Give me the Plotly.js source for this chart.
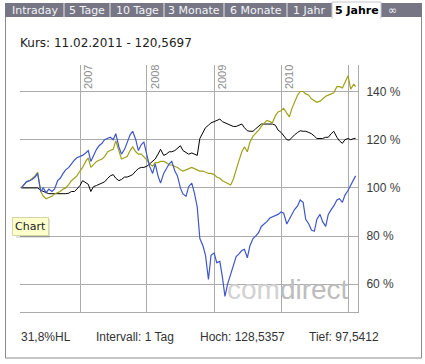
<!DOCTYPE html>
<html>
<head>
<meta charset="utf-8">
<script src="https://cdn.plot.ly/plotly-3.0.1.min.js"></script>
<style>
html,body{margin:0;padding:0;background:#fff;}
#chart{width:425px;height:364px;}
</style>
</head>
<body>
<div id="chart"></div>
<script>
const dates = [
'2006-02-15','2006-03-01','2006-03-15','2006-04-01','2006-04-15','2006-05-01','2006-05-15','2006-06-01','2006-06-15','2006-07-01','2006-07-15','2006-08-01','2006-08-15','2006-09-01','2006-09-15','2006-10-01','2006-10-15','2006-11-01','2006-11-15','2006-12-01','2006-12-15',
'2007-01-01','2007-01-15','2007-02-01','2007-02-15','2007-03-01','2007-03-15','2007-04-01','2007-04-15','2007-05-01','2007-05-15','2007-06-01','2007-06-15','2007-07-01','2007-07-15','2007-08-01','2007-08-15','2007-09-01','2007-09-15','2007-10-01','2007-10-15','2007-11-01','2007-11-15','2007-12-01','2007-12-15',
'2008-01-01','2008-01-15','2008-02-01','2008-02-15','2008-03-01','2008-03-15','2008-04-01','2008-04-15','2008-05-01','2008-05-15','2008-06-01','2008-06-15','2008-07-01','2008-07-15','2008-08-01','2008-08-15','2008-09-01','2008-09-15','2008-10-01','2008-10-15','2008-11-01','2008-11-15','2008-12-01','2008-12-15',
'2009-01-01','2009-01-15','2009-02-01','2009-02-15','2009-03-01','2009-03-15','2009-04-01','2009-04-15','2009-05-01','2009-05-15','2009-06-01','2009-06-15','2009-07-01','2009-07-15','2009-08-01','2009-08-15','2009-09-01','2009-09-15','2009-10-01','2009-10-15','2009-11-01','2009-11-15','2009-12-01','2009-12-15',
'2010-01-01','2010-01-15','2010-02-01','2010-02-15','2010-03-01','2010-03-15','2010-04-01','2010-04-15','2010-05-01','2010-05-15','2010-06-01','2010-06-15','2010-07-01','2010-07-15','2010-08-01','2010-08-15','2010-09-01','2010-09-15','2010-10-01','2010-10-15','2010-11-01','2010-11-15','2010-12-01','2010-12-15',
'2011-01-01','2011-01-15','2011-02-01','2011-02-11'];

const blueSeries = [
100,101.5,102.5,103,103.5,104.5,106,98.5,100,98,99.5,98.5,99.5,103,104,106,107.5,108.5,110,111.5,112.5,
113,113.5,114.5,115.5,111,113.5,116,117.5,118.5,120,120.5,121,120,122.5,117,114,116,119,122,123.5,120,115.5,118,119,
114,109,106,110,105,102,106,108,110,111,107,105,100,97.5,96.5,100.5,102,98,92,79,76,72,62,72,
73,69,69.5,63,55,60,64,67,71.5,72.5,74,74.5,71,76,79,80,81.5,84,85,86,87.5,88,88.5,89,
90,89.5,85,87,89,91,92.5,95,94,87,85,82.5,82,87,89,86,84,89,91,92.5,95,95.5,94,97,
99,101,103,105];

const oliveSeries = [
100,101.5,102.5,103,104,105,106.5,98.5,96.5,95.5,96,96.5,97.5,98,98.5,99.5,100,101.5,103,104,105,
107,108.5,111,112.5,108.5,109.5,111,111.5,112,113,115,115.5,116,119.5,115,112,112.5,113,115.5,117,115,114,114,113,
111.5,110,109,110.5,110.5,111,111,110.5,109.5,109.5,109,108.5,107.5,107,107.5,108,108.5,108,107.5,107,107,106.5,106,106,
105.5,104.5,104,103,102.5,102,101.2,103.5,108,111,115,117,115,119,121.5,122.5,124,125.5,127,128,127.5,127,130,131.5,
132,133,131,129.5,133,135.5,138.5,140,140,139,138.5,137,136,135.5,136,137,138,138.5,139,139.5,142,142,141.5,143.5,
146.5,141,143,142];

const blackSeries = [
100,100,100,100,100,100,100,99,98.5,98,97.6,97.6,97.54,97.6,97.6,97.6,97.6,97.8,98.5,98.5,99.5,
101,103,102,101.5,98.5,100.5,101,101.5,102,102.5,104,105,105.5,104,103,103.5,104.5,104.5,105,105.5,107,108,108.5,108.5,
109,110,111,112,114,116,113.5,114,115,115,115.5,116.5,117.5,115.5,114.5,114,114.5,114,113.5,120.5,123,125,126,127,
127.5,128,128.54,127.5,127,126.5,126,125.5,125.5,126,126.5,125,123.7,123.5,123.5,124.5,125.5,126.5,126.5,126.5,126.5,126.5,126,124,
123,121.5,120,119.8,121,122,123,123.7,123.5,123.5,123,122.5,121.5,120.5,120.5,120.5,121,121,122.5,123.5,121,119.5,118.5,120,
120.5,120,120.5,120.57];

const yTicks = [60, 80, 100, 120, 140];
const yTickText = ['60 %', '80 %', '100 %', '120 %', '140 %'];
const yearTicks = ['2007-01-01','2008-01-01','2009-01-01','2010-01-01','2011-01-01'];
const yearLabels = ['2007','2008','2009','2010'];
const tabLabels = ['Intraday','5 Tage','10 Tage','3 Monate','6 Monate','1 Jahr','5 Jahre','\u221E'];
const footerLabels = ['31,8%HL','Intervall: 1 Tag','Hoch: 128,5357','Tief: 97,5412'];
const titleText = 'Kurs: 11.02.2011 - 120,5697';

// layout helpers: pixel -> paper coordinates (plot area: x 20..358, y 65..312)
const L = 20, R = 358, T = 65, B = 312;
const px = X => (X - L) / (R - L);
const py = Y => (B - Y) / (B - T);

const traces = [
  {x: dates, y: blackSeries, type: 'scatter', mode: 'lines', line: {color: '#000000', width: 1}, hoverinfo: 'skip'},
  {x: dates, y: oliveSeries, type: 'scatter', mode: 'lines', line: {color: '#a0a01a', width: 1.2}, hoverinfo: 'skip'},
  {x: dates, y: blueSeries, type: 'scatter', mode: 'lines', line: {color: '#3f57c8', width: 1.2}, hoverinfo: 'skip'}
];

const shapes = [];
const annotations = [];

// tab bar
shapes.push({type: 'rect', xref: 'paper', yref: 'paper', x0: px(5), x1: px(422), y0: py(17), y1: py(3), fillcolor: '#767684', line: {width: 0}, layer: 'below'});
const tabSeps = [64, 110, 164, 224, 287];
tabSeps.forEach(s => shapes.push({type: 'line', xref: 'paper', yref: 'paper', x0: px(s), x1: px(s), y0: py(17), y1: py(3), line: {color: '#e8e8ee', width: 1}}));
// active tab
shapes.push({type: 'rect', xref: 'paper', yref: 'paper', x0: px(332), x1: px(381), y0: py(18), y1: py(2), fillcolor: '#ffffff', line: {color: '#c8c8d0', width: 1}});
shapes.push({type: 'line', xref: 'paper', yref: 'paper', x0: px(333), x1: px(380), y0: py(18), y1: py(18), line: {color: '#ffffff', width: 2}});
// outer frame
shapes.push({type: 'line', xref: 'paper', yref: 'paper', x0: px(5.5), x1: px(5.5), y0: py(17), y1: py(358), line: {color: '#8a8a8a', width: 1}});
shapes.push({type: 'line', xref: 'paper', yref: 'paper', x0: px(421.5), x1: px(421.5), y0: py(17), y1: py(358), line: {color: '#8a8a8a', width: 1}});
shapes.push({type: 'line', xref: 'paper', yref: 'paper', x0: px(5.5), x1: px(421.5), y0: py(358), y1: py(358), line: {color: '#8a8a8a', width: 1}});

const tabCenters = [35, 87, 137.5, 194, 256, 309, 357, 392];
tabLabels.forEach((t, i) => {
  const active = i === 6;
  annotations.push({text: active ? '<b>' + t + '</b>' : t, xref: 'paper', yref: 'paper', x: px(tabCenters[i]), y: py(10.5),
    xanchor: 'center', yanchor: 'middle', showarrow: false, borderpad: 0, borderwidth: 0,
    font: {family: 'DejaVu Sans', size: 11, color: active ? '#000000' : '#f4f4f8'}});
});

// year labels (rotated, inside top of plot)
yearLabels.forEach((yr, i) => {
  annotations.push({text: yr, xref: 'x', yref: 'paper', x: yearTicks[i], y: 1, xanchor: 'left', yanchor: 'top',
    xshift: 2, textangle: -90, showarrow: false, borderpad: 0, borderwidth: 0,
    font: {family: 'Liberation Sans', size: 11, color: '#8c8c8c'}});
});

// watermark
annotations.push({text: '<span style="color:#d2d2d2">com</span><span style="color:#bdbdbd">direct</span>', xref: 'paper', yref: 'paper',
  x: px(227), y: py(289), xanchor: 'left', yanchor: 'middle', showarrow: false, borderpad: 0, borderwidth: 0,
  font: {family: 'Liberation Sans', size: 28, color: '#c8c8c8'}});

// tooltip "Chart"
shapes.push({type: 'rect', xref: 'paper', yref: 'paper', x0: px(16), x1: px(50), y0: py(238), y1: py(219), fillcolor: 'rgba(0,0,0,0.12)', line: {width: 0}});
annotations.push({text: 'Chart', xref: 'paper', yref: 'paper', x: px(30.5), y: py(226), xanchor: 'center', yanchor: 'middle',
  showarrow: false, bgcolor: '#ffffcc', bordercolor: '#d6d6a6', borderwidth: 1, borderpad: 2,
  font: {family: 'DejaVu Sans', size: 11, color: '#222222'}});

// footer
const footerX = [21, 96, 200, 309];
footerLabels.forEach((t, i) => {
  annotations.push({text: t, xref: 'paper', yref: 'paper', x: px(footerX[i]), y: py(337), xanchor: 'left', yanchor: 'middle',
    showarrow: false, borderpad: 0, borderwidth: 0, font: {family: 'Liberation Sans', size: 12, color: '#333333'}});
});

const layout = {
  width: 425, height: 364,
  margin: {l: L, r: 425 - R, t: T, b: 364 - B, pad: 0},
  paper_bgcolor: '#ffffff', plot_bgcolor: '#ffffff',
  showlegend: false,
  title: {text: titleText, x: 20 / 425, xanchor: 'left', xref: 'container', y: 1 - 43 / 364, yanchor: 'middle',
    font: {family: 'DejaVu Sans', size: 12, color: '#222222'}},
  xaxis: {type: 'date', range: ['2006-02-08', '2011-02-24'], tickvals: yearTicks, showticklabels: false, ticks: '',
    showgrid: true, gridcolor: '#ababab', gridwidth: 1, showline: true, linecolor: '#ababab', linewidth: 1, zeroline: false, fixedrange: true},
  yaxis: {range: [48.5, 151], side: 'right', tickmode: 'array', tickvals: yTicks, ticktext: yTickText, ticks: '', ticklabelstandoff: 5,
    showgrid: true, gridcolor: '#ababab', gridwidth: 1, showline: true, linecolor: '#ababab', linewidth: 1, zeroline: false,
    tickfont: {family: 'Liberation Sans', size: 12, color: '#3a3a3a'}, fixedrange: true},
  shapes: shapes,
  annotations: annotations
};

Plotly.newPlot('chart', traces, layout, {displayModeBar: false, staticPlot: true});
</script>
</body>
</html>
